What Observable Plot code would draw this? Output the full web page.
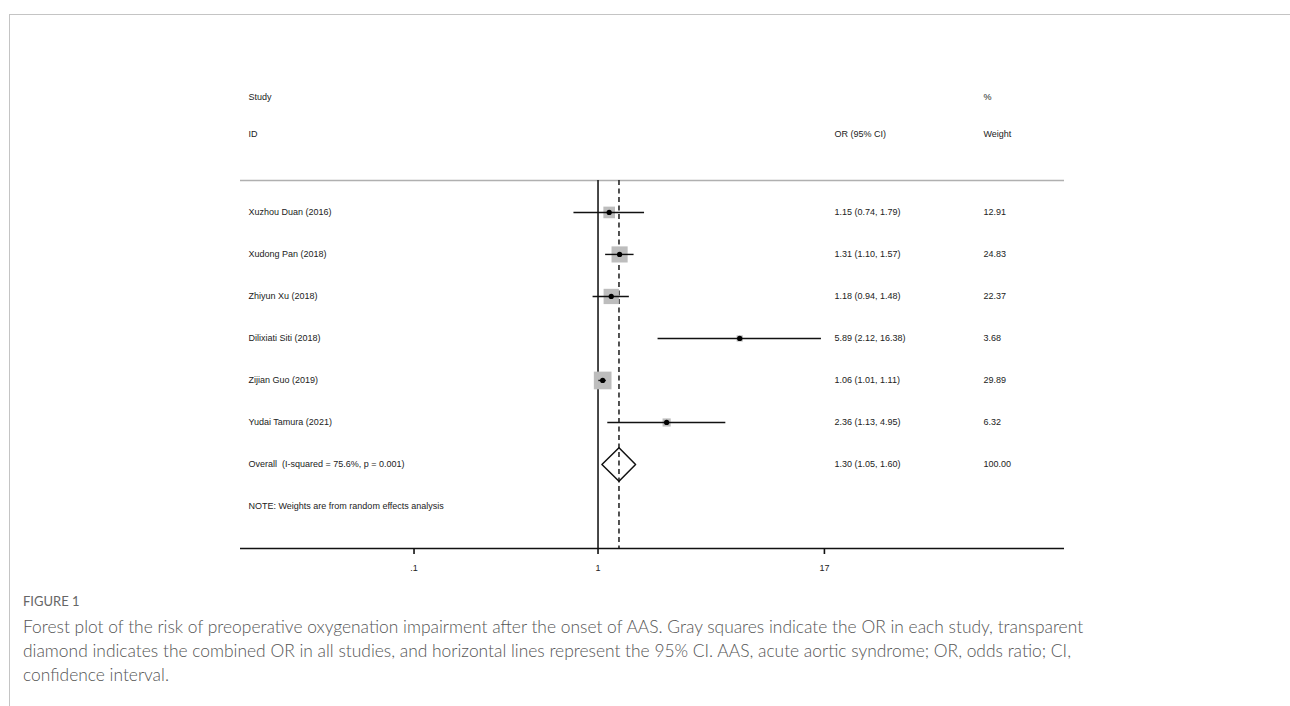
<!DOCTYPE html>
<html>
<head>
<meta charset="utf-8">
<script src="https://cdn.jsdelivr.net/npm/d3@7"></script>
<script src="https://cdn.jsdelivr.net/npm/@observablehq/plot@0.6"></script>
<style>
  html, body { margin: 0; padding: 0; background: #fff; }
  #page { position: absolute; left: 9px; top: 14px; width: 1281px; height: 692px;
          border-top: 1.5px solid #c4c4c4; border-left: 1.5px solid #c4c4c4; }
  #chart { height: 568px; }
  #chart svg { display: block; }
  .fig { margin: 8px 0 0 13px; font-family: Lato, "Open Sans", sans-serif; font-weight: 400;
         color: #666; font-size: 13px; line-height: 20px; }
  .cap { margin: 4px 0 0 13px; font-family: Lato, "Open Sans", sans-serif; font-weight: 300;
         color: #555; font-size: 17.4px; line-height: 24px; white-space: nowrap; }
</style>
</head>
<body>
<div id="page">
  <div id="chart"></div>
  <div class="fig">FIGURE 1</div>
  <div class="cap">Forest plot of the risk of preoperative oxygenation impairment after the onset of AAS. Gray squares indicate the OR in each study, transparent<br>diamond indicates the combined OR in all studies, and horizontal lines represent the 95% CI. AAS, acute aortic syndrome; OR, odds ratio; CI,<br>confidence interval.</div>
</div>
<script>
const studies = ["Xuzhou Duan (2016)", "Xudong Pan (2018)", "Zhiyun Xu (2018)", "Dilixiati Siti (2018)", "Zijian Guo (2019)", "Yudai Tamura (2021)"];
const oddsRatio = [1.15, 1.31, 1.18, 5.89, 1.06, 2.36];
const ciLow = [0.74, 1.10, 0.94, 2.12, 1.01, 1.13];
const ciHigh = [1.79, 1.57, 1.48, 16.38, 1.11, 4.95];
const weights = [12.91, 24.83, 22.37, 3.68, 29.89, 6.32];
const overallLabel = "Overall  (I-squared = 75.6%, p = 0.001)";
const overallOR = 1.30, overallLow = 1.05, overallHigh = 1.60, overallWeight = 100.00;
const noteText = "NOTE: Weights are from random effects analysis";
const xTicks = [0.1, 1, 17];

const rows = studies.map((s, i) => ({i, label: s, or: oddsRatio[i], lo: ciLow[i], hi: ciHigh[i], w: weights[i]}));
const overall = {i: rows.length, label: overallLabel, or: overallOR, lo: overallLow, hi: overallHigh, w: overallWeight};
const allRows = [...rows, overall];
const note = {i: rows.length + 1, label: noteText};
const fmt = v => v.toFixed(2);
allRows.forEach(d => { d.ci = `${fmt(d.or)} (${fmt(d.lo)}, ${fmt(d.hi)})`; d.wt = fmt(d.w); });

const yDomain = [-0.76, 8];
const xDomain = [0.0114, 343];
const dh = 0.4;
const diamond = [
  {x: overall.lo, y: overall.i}, {x: overall.or, y: overall.i - dh},
  {x: overall.hi, y: overall.i}, {x: overall.or, y: overall.i + dh},
  {x: overall.lo, y: overall.i}
];

const txt = {fontSize: 9, fill: "#222"};
const chart = Plot.plot({
  width: 1280, height: 568,
  marginLeft: 230, marginRight: 226, marginTop: 165, marginBottom: 35,
  style: {fontFamily: "'Liberation Sans', Arial, sans-serif", background: "#fff"},
  x: {type: "log", domain: xDomain, axis: null},
  y: {type: "linear", domain: yDomain, reverse: true, axis: null},
  r: {type: "sqrt", domain: [0, 30], range: [0, 10]},
  marks: [
    Plot.ruleY([yDomain[0]], {stroke: "#b0b0b0", strokeWidth: 1.5}),
    Plot.ruleX([1], {stroke: "#1a1a1a", strokeWidth: 1.6}),
    Plot.ruleX([overall.or], {stroke: "#1a1a1a", strokeWidth: 1.5, strokeDasharray: "5,3.5"}),
    Plot.dot(rows, {x: "or", y: "i", r: "w", symbol: "square", fill: "#bdbdbd"}),
    Plot.ruleY(rows, {y: "i", x1: "lo", x2: "hi", stroke: "#111", strokeWidth: 1.4}),
    Plot.dot(rows, {x: "or", y: "i", r: 2.6, fill: "#000", symbol: "circle"}),
    Plot.line(diamond, {x: "x", y: "y", stroke: "#111", strokeWidth: 1.5}),
    Plot.ruleY([yDomain[1]], {stroke: "#111", strokeWidth: 1.6}),
    Plot.axisX(xTicks, {tickSize: 6, tickPadding: 10, strokeWidth: 1.6, stroke: "#111", fontSize: 9, fill: "#222",
      tickFormat: d => String(d).replace(/^0\./, "."), label: null}),
    Plot.text([...allRows, note], {y: "i", text: "label", frameAnchor: "left", dx: 8, textAnchor: "start", ...txt}),
    Plot.text(allRows, {y: "i", text: "ci", frameAnchor: "right", dx: -230, textAnchor: "start", ...txt}),
    Plot.text(allRows, {y: "i", text: "wt", frameAnchor: "right", dx: -81, textAnchor: "start", ...txt}),
    Plot.text(["Study"], {text: d => d, frameAnchor: "top-left", dx: 8, dy: -87, textAnchor: "start", ...txt}),
    Plot.text(["ID"], {text: d => d, frameAnchor: "top-left", dx: 8, dy: -50, textAnchor: "start", ...txt}),
    Plot.text(["%"], {text: d => d, frameAnchor: "top-right", dx: -81, dy: -87, textAnchor: "start", ...txt}),
    Plot.text(["OR (95% CI)"], {text: d => d, frameAnchor: "top-right", dx: -230, dy: -50, textAnchor: "start", ...txt}),
    Plot.text(["Weight"], {text: d => d, frameAnchor: "top-right", dx: -81, dy: -50, textAnchor: "start", ...txt})
  ]
});
document.getElementById("chart").appendChild(chart);
</script>
</body>
</html>
